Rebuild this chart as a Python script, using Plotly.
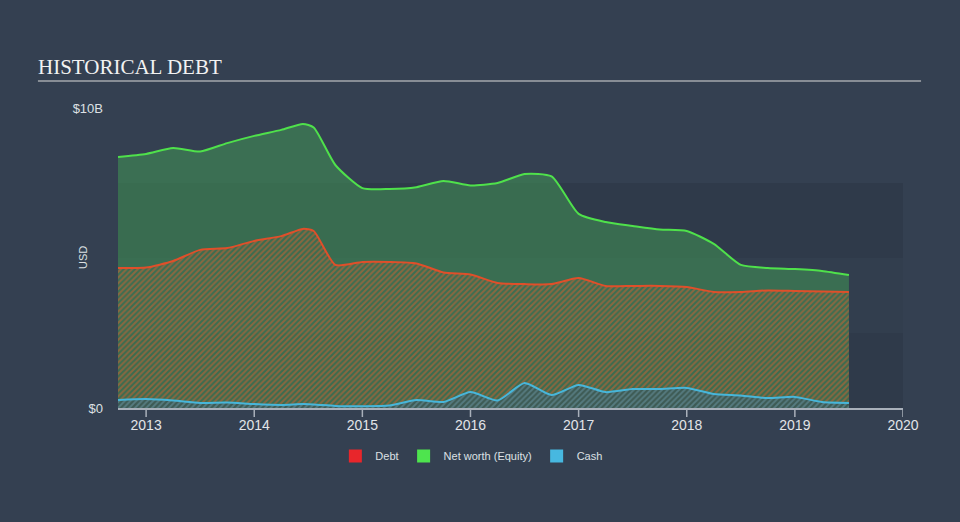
import plotly.graph_objects as go

dates = [2012.74, 2013.0, 2013.25, 2013.5, 2013.75, 2014.0, 2014.25, 2014.45, 2014.55,
         2014.75, 2015.0, 2015.25, 2015.5, 2015.75, 2016.0, 2016.25, 2016.5, 2016.75,
         2017.0, 2017.25, 2017.5, 2017.75, 2018.0, 2018.25, 2018.5, 2018.75, 2019.0,
         2019.25, 2019.5]

net_worth = [8.37, 8.47, 8.67, 8.55, 8.83, 9.07, 9.27, 9.47, 9.35,
             8.1, 7.33, 7.3, 7.36, 7.57, 7.42, 7.5, 7.8, 7.72,
             6.47, 6.2, 6.07, 5.95, 5.9, 5.47, 4.77, 4.67, 4.63,
             4.57, 4.43]

debt = [4.67, 4.68, 4.9, 5.27, 5.33, 5.57, 5.73, 5.97, 5.9,
        4.77, 4.87, 4.87, 4.82, 4.52, 4.45, 4.17, 4.13, 4.13,
        4.33, 4.07, 4.07, 4.07, 4.03, 3.87, 3.87, 3.92, 3.9,
        3.88, 3.87]

cash = [0.27, 0.3, 0.25, 0.17, 0.18, 0.13, 0.1, 0.13, 0.12,
        0.07, 0.06, 0.08, 0.27, 0.2, 0.53, 0.25, 0.83, 0.43,
        0.77, 0.53, 0.63, 0.63, 0.67, 0.47, 0.42, 0.33, 0.37,
        0.2, 0.17]

x_ticks = [2013, 2014, 2015, 2016, 2017, 2018, 2019, 2020]
y_ticks = [0, 10]
y_tick_labels = ["$0", "$10B"]

BG = "#344051"
AXIS = "#a9b0ba"

fig = go.Figure()

fig.add_trace(go.Scatter(
    x=dates, y=net_worth, mode="lines", line=dict(color="#4fe14b", width=2, shape="spline", smoothing=0.6),
    fill="tozeroy", fillcolor="rgba(65,150,85,0.55)", showlegend=False, hoverinfo="skip"))
fig.add_trace(go.Scatter(
    x=dates, y=debt, mode="lines", line=dict(color="#e04f2a", width=2, shape="spline", smoothing=0.6),
    fill="tozeroy", fillcolor="rgba(0,0,0,0)",
    fillpattern=dict(shape="/", fgcolor="#d9622f", bgcolor="rgba(0,0,0,0)", size=4, solidity=0.5),
    showlegend=False, hoverinfo="skip"))
fig.add_trace(go.Scatter(
    x=dates, y=cash, mode="lines", line=dict(color="#47b6da", width=2, shape="spline", smoothing=0.6),
    fill="tozeroy", fillcolor="rgba(0,0,0,0)",
    fillpattern=dict(shape="/", fgcolor="#4a9fb5", bgcolor="rgba(60,80,90,0.6)", size=4, solidity=0.45),
    showlegend=False, hoverinfo="skip"))

for name, col in [("Debt", "#e8262b"), ("Net worth (Equity)", "#4ee44e"), ("Cash", "#47b8e0")]:
    fig.add_trace(go.Scatter(x=[None], y=[None], mode="markers", name=name,
                             marker=dict(symbol="square", size=13, color=col)))

# background bands
for y0, y1, c in [(0, 2.5, "#2f3a4a"), (2.5, 5, "#323e4e"), (5, 7.5, "#2f3a4a")]:
    fig.add_shape(type="rect", xref="x", yref="y", x0=2012.74, x1=2020, y0=y0, y1=y1,
                  fillcolor=c, line=dict(width=0), layer="below")

# x tick marks
for t in x_ticks:
    fig.add_shape(type="line", xref="x", yref="paper", x0=t, x1=t, y0=0, y1=-0.03,
                  line=dict(color=AXIS, width=1.5))

# title rule
fig.add_shape(type="line", xref="paper", yref="paper", x0=-0.102, x1=1.023, y0=1.09, y1=1.09,
              line=dict(color="#a3a7ad", width=1.5))

fig.add_annotation(text="USD", xref="paper", yref="paper", x=(75 - 118) / 785, y=0.5,
                   textangle=-90, showarrow=False, font=dict(size=11, color="#dde0e4"))

fig.update_layout(
    width=960, height=522,
    paper_bgcolor=BG, plot_bgcolor=BG,
    margin=dict(l=118, r=57, t=108, b=114, autoexpand=False),
    title=dict(text="HISTORICAL DEBT", x=38/960, xanchor="left", xref="container",
               y=1-67/522, yanchor="middle", yref="container",
               font=dict(family="Liberation Serif", size=21, color="#f2f2f2")),
    font=dict(family="Liberation Sans, Arial", color="#dde0e4"),
    xaxis=dict(range=[2012.74, 2020.0], tickvals=x_ticks, ticktext=[str(t) for t in x_ticks],
               showgrid=False, zeroline=False, showline=True, linecolor=AXIS, linewidth=1.5,
               ticks="outside", ticklen=3, tickcolor="rgba(0,0,0,0)", automargin=False,
               tickfont=dict(size=14, color="#e2e4e8")),
    yaxis=dict(range=[0, 10], tickvals=y_ticks, ticktext=y_tick_labels, showgrid=False,
               zeroline=False, showline=False, ticks="", ticklabelstandoff=14, automargin=False,
               tickfont=dict(size=13, color="#dde0e4")),
    legend=dict(orientation="h", xref="container", yref="container", x=0.491, xanchor="center",
                y=1-456/522, yanchor="middle", font=dict(size=11, color="#dde0e4"),
                bgcolor="rgba(0,0,0,0)", itemwidth=30),
    showlegend=True,
)

fig.write_html("out.html", config={"displayModeBar": False},
               post_script="document.body.style.margin='0';document.body.style.overflow='hidden';")
